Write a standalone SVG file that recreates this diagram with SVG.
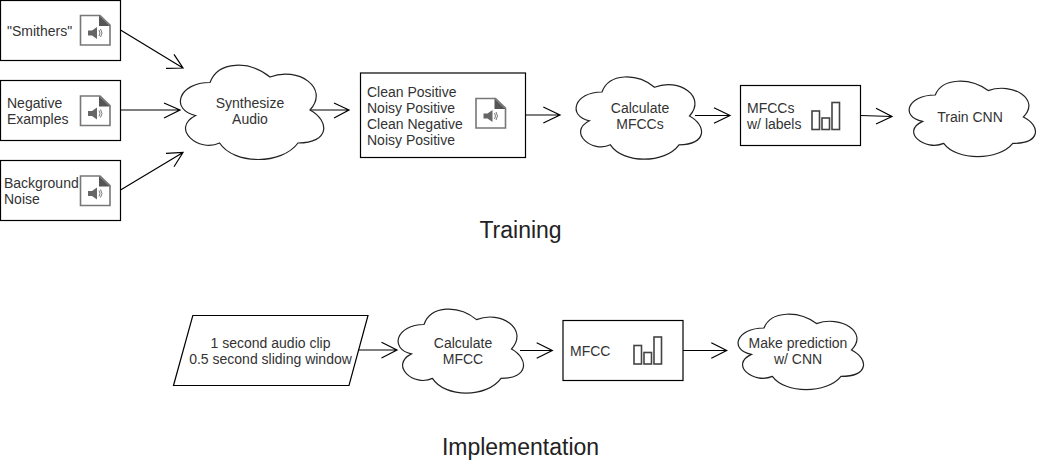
<svg xmlns="http://www.w3.org/2000/svg" width="1041" height="461" viewBox="0 0 1041 461">
<style>
text{font-family:"Liberation Sans",Arial,Helvetica,sans-serif;font-size:14px;fill:#333}
.m{text-anchor:middle}
.t{font-size:23px;fill:#222}
.b{fill:#fff;stroke:#000;stroke-width:1.2}
.c{fill:#fff;stroke:#222;stroke-width:1.2}
.l{fill:none;stroke:#000;stroke-width:1.2}
.f{fill:#fff;stroke:#777;stroke-width:1.6}
.d{fill:#555}
.s{fill:#666}
.w{fill:none;stroke:#777;stroke-width:1}
.g{fill:#fff;stroke:#444;stroke-width:1.6}
</style>
<defs>
<path id="cloud" vector-effect="non-scaling-stroke" d="M.25 .25C.05 .25 0 .5 .16 .55C0 .67 .18 .89 .31 .8C.4 1 .7 1 .8 .8C1 .8 1 .6 .875 .5C1 .3 .8 .1 .625 .2C.5 .05 .3 .05 .25 .25Z"/>
<g id="audio">
<path class="f" d="M.5 .5H20L30 10V30H.5Z"/>
<path class="d" d="M19 0.500L30 11H19Z"/>
<path class="s" d="M8 15.500H12L17 12V24L12 20.500H8Z"/>
<path class="w" d="M19 15Q21 18 19 21M20.500 14Q23.500 18 20.500 22"/>
</g>
<g id="bars">
<rect class="g" x="0" y="8.500" width="7.500" height="18.500"/>
<rect class="g" x="10" y="15.500" width="7.500" height="11.500"/>
<rect class="g" x="20" y="0" width="7.500" height="27"/>
</g>
</defs>
<g id="connectors">
<path class="l" d="M120.500 30L183 68M166 68.300L183 68L174 54.300"/>
<path class="l" d="M120.500 110H180M164 103L180 110L164 118"/>
<path class="l" d="M120.500 190L183 152.500M166 153.300L183 152.500L174 166.700"/>
<path class="l" d="M310 110H349M334 103L349 110L334 118"/>
<path class="l" d="M525.500 115H560M543.300 107L560 115L543.300 123"/>
<path class="l" d="M695 115.500H730M714 107.700L730 115.500L714 123.300"/>
<path class="l" d="M860.500 115.500L892 116.500M876 108.300L892 116.500L876 124"/>
<path class="l" d="M358 350H397M381.500 342.300L397 350L381.500 358"/>
<path class="l" d="M520 350.500H552.300M536.700 342.700L552.300 350.500L536.700 358.300"/>
<path class="l" d="M683 350.500H726.700M711.300 342.700L726.700 350.500L711.300 358.300"/>
</g>
<g id="smithers"><rect class="b" x=".5" y=".5" width="120" height="60"/><text x="7" y="36">"Smithers"</text><use href="#audio" x="80" y="15"/></g>
<g id="negative"><rect class="b" x=".5" y="80.500" width="120" height="60"/><text x="7" y="108">Negative</text><text x="7" y="124">Examples</text><use href="#audio" x="80" y="95.500"/></g>
<g id="background"><rect class="b" x=".5" y="160.500" width="120" height="60"/><text x="4" y="188">Background</text><text x="4" y="204">Noise</text><use href="#audio" x="80" y="175.500"/></g>
<g id="synthesize"><use href="#cloud" class="c" transform="translate(170 55) scale(160 110)"/><text class="m" x="250" y="108">Synthesize</text><text class="m" x="250" y="124">Audio</text></g>
<g id="dataset"><rect class="b" x="360.500" y="73" width="165" height="84.500"/><text x="367" y="97">Clean Positive</text><text x="367" y="113">Noisy Positive</text><text x="367" y="129">Clean Negative</text><text x="367" y="145">Noisy Positive</text><use href="#audio" x="475.500" y="98"/></g>
<g id="calc-train"><use href="#cloud" class="c" transform="translate(567 68) scale(140 96)"/><text class="m" x="640" y="113">Calculate</text><text class="m" x="640" y="129">MFCCs</text></g>
<g id="mfcc-labels"><rect class="b" x="740.500" y="85.500" width="120" height="60"/><text x="747" y="113">MFCCs</text><text x="747" y="129">w/ labels</text><use href="#bars" x="812" y="102.500"/></g>
<g id="train"><use href="#cloud" class="c" transform="translate(900 73) scale(141 88)"/><text class="m" x="970" y="122">Train CNN</text></g>
<text id="training" class="t m" x="520.500" y="238">Training</text>
<g id="clip"><path class="b" d="M192.800 315.500H368L349 385.500H173.500Z"/><text class="m" x="270.500" y="348">1 second audio clip</text><text class="m" x="270.500" y="364">0.5 second sliding window</text></g>
<g id="calc-impl"><use href="#cloud" class="c" transform="translate(389 300) scale(140 98)"/><text class="m" x="463" y="348">Calculate</text><text class="m" x="463" y="364">MFCC</text></g>
<g id="mfcc"><rect class="b" x="563" y="320.500" width="120" height="60"/><text x="570" y="356">MFCC</text><use href="#bars" x="634" y="337"/></g>
<g id="predict"><use href="#cloud" class="c" transform="translate(729 306) scale(140 88)"/><text class="m" x="798" y="348">Make prediction</text><text class="m" x="798" y="364">w/ CNN</text></g>
<text id="implementation" class="t m" x="520.500" y="455">Implementation</text>
</svg>
